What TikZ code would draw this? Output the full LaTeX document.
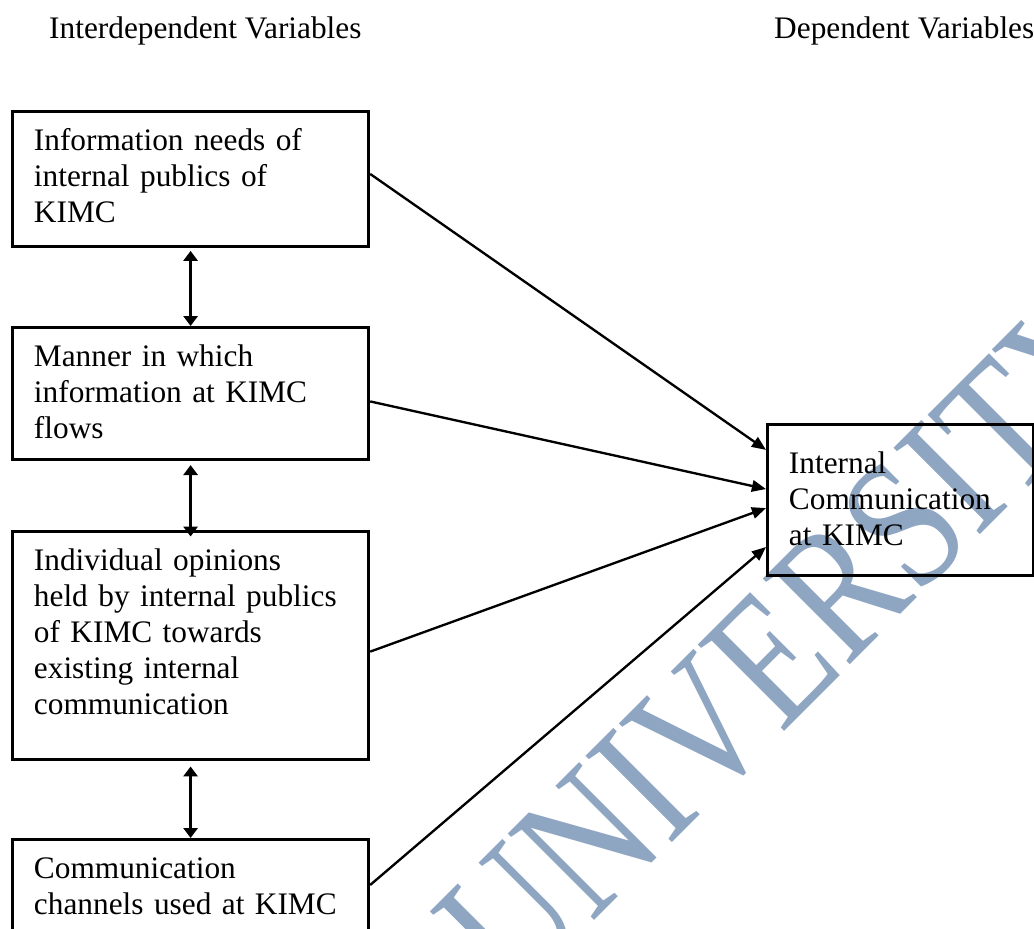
\documentclass[tikz,border=0pt]{standalone}
\usepackage{fontspec}
\setmainfont{Liberation Serif}
\usetikzlibrary{arrows.meta}
\usetikzlibrary{calc,positioning}

\definecolor{wmblue}{RGB}{143,166,194}

\begin{document}
\begin{tikzpicture}[x=0.3831pt, y=-0.3831pt,
    >={Triangle[length=5.4pt,width=4.4pt]},
    var/.style={draw, line width=1.2pt, anchor=north west, align=left,
        text width=120pt, inner xsep=8.2pt, inner ysep=0pt, text height=15pt,
        font=\fontsize{12}{13.8}\selectfont},
    head/.style={anchor=base west, font=\fontsize{12}{13.8}\selectfont},
    link/.style={->, line width=0.9pt},
    both/.style={{Triangle[length=3.8pt,width=5.4pt]}-{Triangle[length=3.8pt,width=5.4pt]}, line width=1pt}]

    \useasboundingbox (0,0) rectangle (1034,929);
    \clip (0,0) rectangle (1034,929);

    % watermark behind everything
    \node[rotate=45, xscale=1.05, yscale=1.3, text=wmblue, font=\fontsize{55}{60}\selectfont] (wm) at (792,638) {UNIVERSITY};

    \node[head] (ivhead) at (40,39) {Interdependent Variables};
    \node[head] (dvhead) at (765,39) {Dependent Variables};

    \node[var, text depth=36.8pt] (needs) at (11,110) {Information needs of\\internal publics of\\KIMC};
    \node[var, text depth=35.6pt] (manner) at (11,326) {Manner in which\\information at KIMC\\flows};
    \node[var, text depth=72.4pt] (opinions) at (11,530) {Individual opinions\\held by internal publics\\of KIMC towards\\existing internal\\communication};
    \node[var, text depth=57pt] (channels) at (11,838) {Communication\\channels used at KIMC};

    \node[var, text width=85.5pt, text height=18.8pt, text depth=39pt] (ic) at (766,423) {Internal\\Communication\\at KIMC};

    \draw[both, shorten <=1pt] (needs.south) -- (manner.north);
    \draw[both, shorten <=1.5pt, shorten >=-2.5pt] (manner.south) -- (opinions.north);
    \draw[both, shorten <=2pt] (opinions.south) -- (channels.north);

    \draw[link] ([yshift=2pt]needs.east) -- ([yshift=-10.3pt]ic.north west);
    \draw[link] ([yshift=-3pt]manner.east) -- ([yshift=-25.3pt]ic.north west);
    \draw[link] ([yshift=-2.3pt]opinions.east) -- ([yshift=-32.6pt]ic.north west);
    \draw[link] ([yshift=-18pt]channels.north east) -- ([yshift=-47.5pt]ic.north west);

\end{tikzpicture}
\end{document}
